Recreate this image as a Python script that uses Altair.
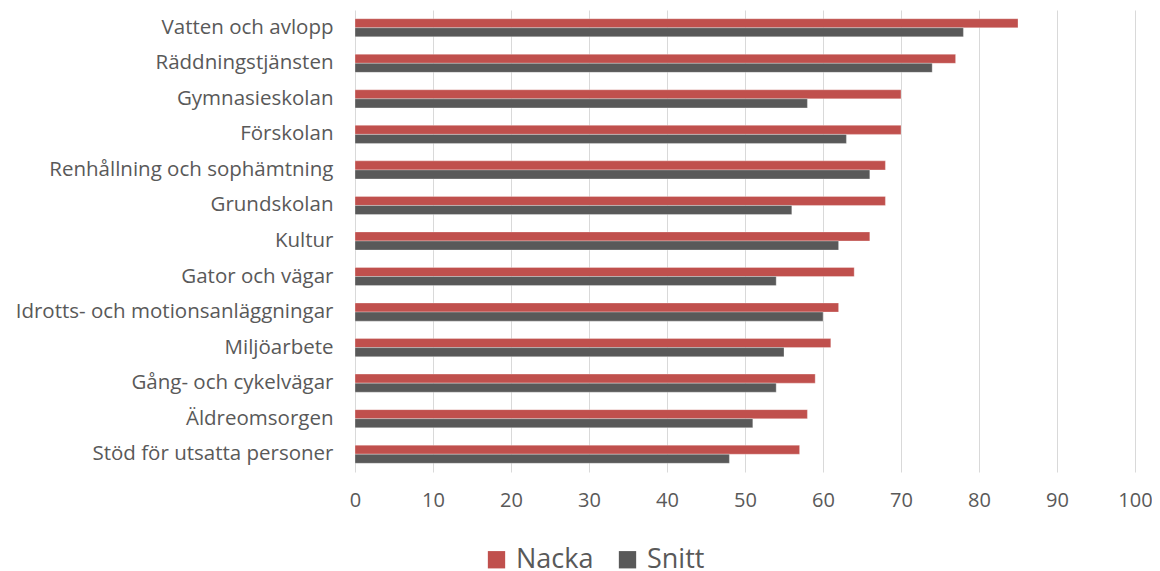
import altair as alt
import pandas as pd

categories = [
    "Vatten och avlopp",
    "Räddningstjänsten",
    "Gymnasieskolan",
    "Förskolan",
    "Renhållning och sophämtning",
    "Grundskolan",
    "Kultur",
    "Gator och vägar",
    "Idrotts- och motionsanläggningar",
    "Miljöarbete",
    "Gång- och cykelvägar",
    "Äldreomsorgen",
    "Stöd för utsatta personer",
]
nacka = [85, 77, 70, 70, 68, 68, 66, 64, 62, 61, 59, 58, 57]
snitt = [78, 74, 58, 63, 66, 56, 62, 54, 60, 55, 54, 51, 48]
series = ["Nacka", "Snitt"]
colors = ["#C0504D", "#595959"]
x_ticks = list(range(0, 101, 10))

rows = []
for c, n, s in zip(categories, nacka, snitt):
    rows.append({"Kategori": c, "Serie": "Nacka", "Värde": n})
    rows.append({"Kategori": c, "Serie": "Snitt", "Värde": s})
df = pd.DataFrame(rows)

FONT = "Open Sans"
TXT = "#595959"

chart = (
    alt.Chart(df)
    .mark_bar(stroke="white", strokeWidth=0.5, strokeOpacity=0.6)
    .encode(
        y=alt.Y(
            "Kategori:N",
            sort=categories,
            title=None,
            scale=alt.Scale(paddingInner=0.49, paddingOuter=0.245),
            axis=alt.Axis(
                ticks=False,
                domain=False,
                labelFont=FONT,
                labelFontSize=20.5,
                labelColor=TXT,
                labelPadding=22,
                labelLimit=400,
            ),
        ),
        yOffset=alt.YOffset("Serie:N", sort=series),
        x=alt.X(
            "Värde:Q",
            title=None,
            scale=alt.Scale(domain=[0, 100], nice=False),
            axis=alt.Axis(
                values=x_ticks,
                ticks=False,
                domain=False,
                grid=True,
                gridColor="#D9D9D9",
                gridWidth=1,
                labelFont=FONT,
                labelFontSize=20,
                labelColor=TXT,
                labelPadding=18,
                labelFlush=False,
            ),
        ),
        color=alt.Color(
            "Serie:N",
            sort=series,
            scale=alt.Scale(domain=series, range=colors),
            legend=alt.Legend(
                title=None,
                orient="none",
                direction="horizontal",
                legendX=128,
                legendY=536,
                symbolType="square",
                symbolSize=300,
                symbolStrokeWidth=0,
                labelFont=FONT,
                labelFontSize=27,
                labelColor=TXT,
                columnPadding=20,
                labelOffset=6,
            ),
        ),
    )
    .properties(
        width=780,
        height=462,
        background="white",
        autosize=alt.AutoSizeParams(type="none"),
        padding={"left": 347, "top": 2, "right": 17, "bottom": 99},
    )
    .configure_view(strokeWidth=0, stroke=None)
)

chart.save("out.html", embed_options={"renderer": "svg", "actions": False})
